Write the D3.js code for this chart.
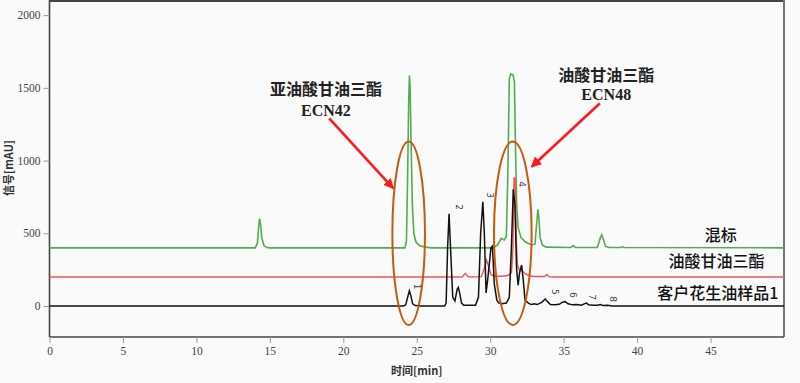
<!DOCTYPE html>
<html><head><meta charset="utf-8">
<script src="https://cdn.jsdelivr.net/npm/d3@7/dist/d3.min.js"></script>
<style>
html,body{margin:0;padding:0;background:#fafafa;}
svg{display:block;}
</style></head>
<body>
<svg id="chart" width="800" height="383"></svg>
<script>
// ---- data ----
const xTicks = [0,5,10,15,20,25,30,35,40,45];
const yTicks = [0,500,1000,1500,2000];
const seriesNames = ["混标","油酸甘油三酯","客户花生油样品1"];

// 混标 (green), [time min, signal mAU]
const mixStd = [[0,400],[14.0,400],[14.15,430],[14.25,560],[14.3,600],[14.35,580],[14.45,470],[14.6,415],[14.8,402],[15,400],
 [24.2,400],[24.3,450],[24.38,900],[24.45,1400],[24.5,1585],[24.55,1500],[24.62,1100],[24.7,700],[24.8,500],[24.95,440],[25.2,415],[25.6,405],[26,400],
 [30.2,400],[30.5,420],[30.75,465],[30.95,455],[31.1,480],[31.2,900],[31.3,1560],[31.4,1595],[31.55,1590],[31.65,1540],[31.72,1100],[31.8,700],[31.9,540],[32.1,470],[32.4,440],[32.8,420],
 [33.05,425],[33.15,550],[33.25,665],[33.32,600],[33.4,470],[33.55,420],[33.8,405],[35.5,402],[35.65,415],[35.8,403],
 [37.3,402],[37.5,470],[37.6,490],[37.7,460],[37.85,410],[38.1,402],[38.9,402],[39.0,408],[39.1,402],[50,400]];

// 油酸甘油三酯 (red)
const oleinStd = [[0,200],[28.1,200],[28.3,225],[28.45,205],[28.6,200],[29.4,202],[29.6,260],[29.75,315],[29.9,270],[30.05,215],[30.3,205],[30.8,205],
 [31.2,210],[31.45,230],[31.55,400],[31.62,880],[31.7,880],[31.78,450],[31.85,280],[32.0,245],[32.2,240],[32.4,220],[32.7,208],[33.0,203],
 [33.7,203],[33.85,215],[34.0,202],[34.3,200],[50,200]];

// 客户花生油样品1 (black)
const sample1 = [[0,0],[24.1,0],[24.25,8],[24.38,60],[24.5,105],[24.6,70],[24.72,15],[24.9,3],[25.3,0],[26.9,0],
 [27.0,20],[27.1,400],[27.2,635],[27.3,400],[27.45,60],[27.6,35],[27.75,115],[27.83,128],[27.92,90],[28.05,20],[28.2,5],
 [29.0,5],[29.2,60],[29.35,500],[29.5,717],[29.6,500],[29.72,90],[29.85,200],[30.05,400],[30.15,412],[30.28,150],[30.45,40],
 [30.6,20],[30.8,15],[31.1,20],[31.3,60],[31.45,420],[31.57,802],[31.68,700],[31.8,250],[31.9,144],[32.0,230],[32.14,282],[32.25,180],[32.37,40],
 [32.6,20],[32.8,10],[33.0,15],[33.2,10],[33.5,25],[33.75,48],[33.9,30],[34.1,10],[34.4,8],[34.7,12],[34.9,25],[35.1,30],[35.3,15],
 [35.6,8],[35.9,10],[36.2,5],[36.4,15],[36.55,20],[36.7,8],[37.0,5],[37.3,5],[37.5,10],[37.7,3],[38.0,5],[38.3,0],[50,0]];

// peak number labels: [label, time, signal]
const peakLabels = [["1",25.06,133],["2",27.88,680],["3",30.03,763],["4",32.15,839],["5",34.41,98],["6",35.64,76],["7",36.93,62],["8",38.34,48]];

// annotation callouts
const calloutText = [["亚油酸甘油三酯","ECN42"],["油酸甘油三酯","ECN48"]];
const calloutPos = [[18.82,1451,1306],[37.9,1547,1416]];     // [time, value line1, value line2]
const ellipseCenters = [[24.45,500],[31.54,500]];
const arrowFromTo = [[[19.04,1290],[23.4,809]],[[37.47,1394],[32.82,958]]];

// ---- chart ----
const svg = d3.select("#chart");
const x = d3.scaleLinear().domain([0,50]).range([49.5,784]);
const y = d3.scaleLinear().domain([-213,2104]).range([337,0]);

svg.append("rect").attr("x",0).attr("y",0).attr("width",800).attr("height",383).attr("fill","#fafafa");

// frame
svg.append("line").attr("x1",x(0)).attr("x2",x(50)).attr("y1",1).attr("y2",1).attr("stroke","#444").attr("stroke-width",2);
svg.append("line").attr("x1",x(50)).attr("x2",x(50)).attr("y1",0).attr("y2",337).attr("stroke","#777").attr("stroke-width",2);

// axes
const xAxis = svg.append("g").attr("transform","translate(0,337)")
  .call(d3.axisBottom(x).tickValues(xTicks).tickSize(6).tickPadding(4).tickFormat(d3.format("d")));
const yAxis = svg.append("g").attr("transform","translate(49.5,0)")
  .call(d3.axisLeft(y).tickValues(yTicks).tickSize(6).tickPadding(3).tickFormat(d3.format("d")));
[xAxis,yAxis].forEach(g=>{
  g.select(".domain").attr("stroke","#444").attr("stroke-width",1.6);
  g.selectAll(".tick line").attr("stroke","#999");
  g.selectAll(".tick text").attr("fill","#444").attr("font-family","Liberation Serif, serif").attr("font-size",11.5);
});
xAxis.select(".domain").attr("d",`M${x(0)},0H${x(50)}`);
yAxis.select(".domain").attr("d",`M0,${y(2104)}V${y(-213)}`);

svg.append("text").attr("x",x(25)).attr("y",375).attr("text-anchor","middle")
  .attr("font-family","Noto Sans CJK SC").attr("font-size",11).attr("font-weight","bold").attr("fill","#333").text("时间[min]");
svg.append("text").attr("transform",`translate(13,168) rotate(-90)`).attr("text-anchor","middle")
  .attr("font-family","Noto Sans CJK SC").attr("font-size",11).attr("font-weight","bold").attr("fill","#333").text("信号[mAU]");

// traces
const line = d3.line().x(d=>x(d[0])).y(d=>y(d[1]));
svg.append("path").datum(mixStd).attr("d",line).attr("fill","none").attr("stroke","#52ad52").attr("stroke-width",1.6);
svg.append("path").datum(oleinStd).attr("d",line).attr("fill","none").attr("stroke","#f25555").attr("stroke-width",1.4);
svg.append("path").datum(sample1).attr("d",line).attr("fill","none").attr("stroke","#111").attr("stroke-width",1.5);

// peak labels
svg.selectAll("text.pk").data(peakLabels).enter().append("text").attr("class","pk")
  .attr("transform",d=>`translate(${x(d[1])},${y(d[2])}) rotate(90)`)
  .attr("text-anchor","middle").attr("dy","0.35em")
  .attr("font-family","DejaVu Sans, sans-serif").attr("font-size",9).attr("fill","#444").text(d=>d[0]);

// ellipses
svg.selectAll("ellipse").data(ellipseCenters).enter().append("ellipse")
  .attr("cx",d=>x(d[0])).attr("cy",d=>y(d[1])).attr("rx",(d,i)=>i===0?16.3:18.8).attr("ry",91.7)
  .attr("fill","none").attr("stroke","#c55a11").attr("stroke-width",2);

// arrows
const defs = svg.append("defs");
defs.append("marker").attr("id","ah").attr("viewBox","0 0 10 10").attr("refX",9).attr("refY",5)
  .attr("markerWidth",4).attr("markerHeight",4).attr("orient","auto")
  .append("path").attr("d","M0,0L10,5L0,10Z").attr("fill","#ff1a1a");
svg.selectAll("line.arrow").data(arrowFromTo).enter().append("line").attr("class","arrow")
  .attr("x1",d=>x(d[0][0])).attr("y1",d=>y(d[0][1])).attr("x2",d=>x(d[1][0])).attr("y2",d=>y(d[1][1]))
  .attr("stroke","#ff1a1a").attr("stroke-width",2.6).attr("marker-end","url(#ah)");

// callout texts
calloutText.forEach((t,i)=>{
  const p = calloutPos[i];
  svg.append("text").attr("x",x(p[0])).attr("y",y(p[1])).attr("text-anchor","middle")
    .attr("font-family","Noto Sans CJK SC").attr("font-weight","bold").attr("font-size",16).attr("fill","#222").text(t[0]);
  svg.append("text").attr("x",x(p[0])).attr("y",y(p[2])).attr("text-anchor","middle")
    .attr("font-family","Liberation Serif, serif").attr("font-weight","bold").attr("font-size",16).attr("fill","#222").text(t[1]);
});

// series labels on the right
const seriesLabelPos = [[45.7,450],[45.4,270],[45.5,50]];
seriesNames.forEach((n,i)=>{
  svg.append("text").attr("x",x(seriesLabelPos[i][0])).attr("y",y(seriesLabelPos[i][1])).attr("text-anchor","middle")
    .attr("font-family","Noto Sans CJK SC").attr("font-weight",500).attr("font-size",16).attr("fill","#111").text(n);
});
</script>
</body></html>
